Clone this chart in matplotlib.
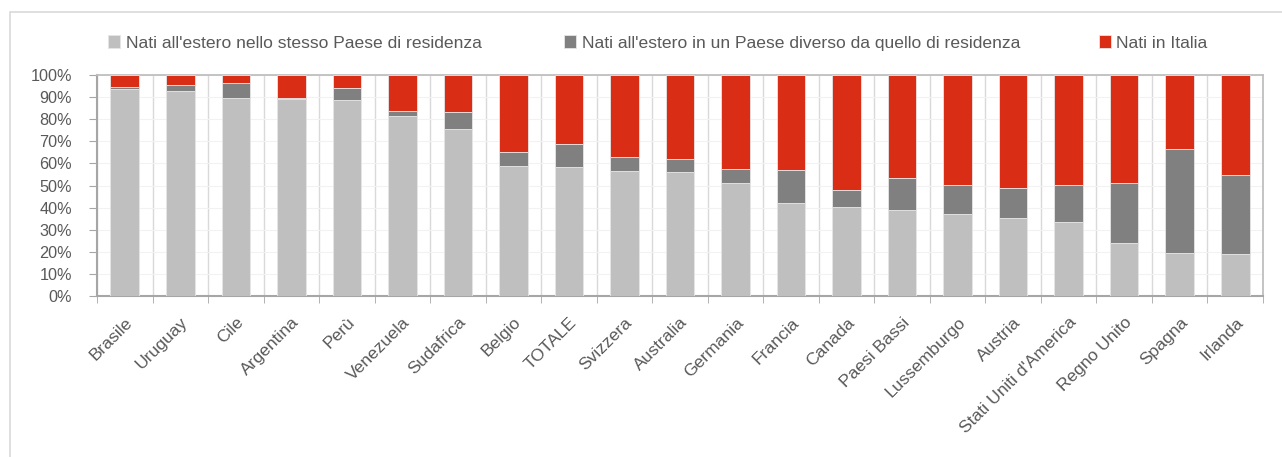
import matplotlib
matplotlib.use("Agg")
import matplotlib.pyplot as plt
import matplotlib.transforms as mtransforms
import numpy as np
from matplotlib.patches import Rectangle

categories = ["Brasile", "Uruguay", "Cile", "Argentina", "Perù", "Venezuela", "Sudafrica",
              "Belgio", "TOTALE", "Svizzera", "Australia", "Germania", "Francia", "Canada",
              "Paesi Bassi", "Lussemburgo", "Austria", "Stati Uniti d'America", "Regno Unito",
              "Spagna", "Irlanda"]
stesso_paese = [93.5, 92.8, 89.7, 89.0, 88.5, 81.4, 75.4, 59.0, 58.4, 56.6, 56.1, 51.1, 42.1,
                40.1, 38.8, 37.3, 35.2, 33.6, 24.1, 19.6, 19.0]
paese_diverso = [1.1, 2.7, 6.7, 0.6, 5.5, 2.3, 7.7, 6.0, 10.2, 6.2, 5.9, 6.4, 14.8, 7.9,
                 14.5, 12.8, 13.7, 16.5, 27.2, 47.1, 35.6]
nati_italia = [100 - a - b for a, b in zip(stesso_paese, paese_diverso)]
series_labels = ["Nati all'estero nello stesso Paese di residenza",
                 "Nati all'estero in un Paese diverso da quello di residenza",
                 "Nati in Italia"]
colors = ["#BFBFBF", "#808080", "#D92D16"]

plt.rcParams['font.family'] = ['Liberation Sans', 'DejaVu Sans']
W, H = 1282, 457
fig = plt.figure(figsize=(W / 100, H / 100), dpi=100)
fig.patches.append(Rectangle((10 / W, -0.1), 1.2, (H - 12) / H + 0.1, transform=fig.transFigure,
                             fill=False, edgecolor="#D9D9D9", linewidth=1.2))
ax = fig.add_axes([97 / W, (H - 296) / H, (1263 - 97) / W, (296 - 75) / H])

n = len(categories)
x = np.arange(n)
bottom = np.zeros(n)
handles = []
for vals, c, lab in zip([stesso_paese, paese_diverso, nati_italia], colors, series_labels):
    h = ax.bar(x, vals, bottom=bottom, width=0.515, color=c, edgecolor="#E6E6E6", linewidth=0.6,
               label=lab, zorder=3)
    handles.append(h)
    bottom += np.array(vals)

ax.set_xlim(-0.5, n - 0.5)
ax.set_ylim(0, 100)
ax.set_yticks(np.arange(0, 101, 10))
ax.set_yticklabels([f"{v}%" for v in range(0, 101, 10)], fontsize=11.7, color="#595959")
ax.set_xticks(x)
ax.set_xticklabels(categories, rotation=45, ha="right", rotation_mode="anchor",
                   fontsize=12.6, color="#595959")
offset = mtransforms.ScaledTranslation(1 / 100, 0, fig.dpi_scale_trans)
for lbl in ax.get_xticklabels():
    lbl.set_transform(lbl.get_transform() + offset)
ax.tick_params(axis="x", length=0, pad=13.5)
ax.set_xticks(np.arange(-0.5, n, 1), minor=True)
ax.tick_params(axis="x", which="minor", length=5, color="#A6A6A6")
ax.tick_params(axis="y", length=6, color="#A6A6A6", pad=12)
ax.grid(axis="y", color="#F2F2F2", linewidth=0.8, zorder=0)
ax.grid(axis="x", which="minor", color="#D9D9D9", linewidth=1.0, zorder=0)
ax.grid(axis="x", which="major", visible=False)
for s in ["left", "bottom"]:
    ax.spines[s].set_color("#A6A6A6")
    ax.spines[s].set_linewidth(1.5)
for s in ["top", "right"]:
    ax.spines[s].set_color("#BFBFBF")
    ax.spines[s].set_linewidth(1.3)

legend_x = [108, 564, 1099]
for h, lab, lx in zip(handles, series_labels, legend_x):
    fig.legend(handles=[h], labels=[lab], loc="center left", bbox_to_anchor=(lx / W, 1 - 43 / H),
               frameon=False, fontsize=12.6, labelcolor="#595959", handlelength=0.7,
               handleheight=0.7, handletextpad=0.3, borderpad=0, borderaxespad=0)

fig.savefig("out.png", dpi=100)
